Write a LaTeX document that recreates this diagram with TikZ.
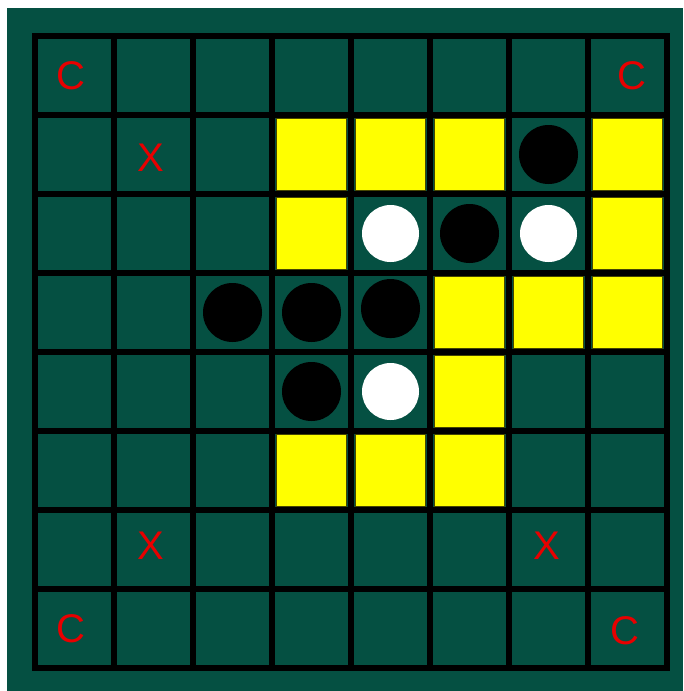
\documentclass[tikz,border=0pt]{standalone}
\usepackage{fontspec}
\setmainfont{Liberation Sans}
\usepackage{xcolor}

\definecolor{boardgreen}{RGB}{5,80,66}
\definecolor{markred}{RGB}{232,0,0}
\definecolor{hintyellow}{RGB}{255,255,0}
\definecolor{hintedge}{RGB}{70,70,0}

\begin{document}
\begin{tikzpicture}[
  x=1pt, y=-1pt,
  gridline/.style={line width=5.5pt, black, line cap=rect},
  hint/.style={fill=hintyellow, draw=hintedge, line width=0.8pt},
  blackdisc/.style={circle, fill=black, minimum size=59pt, inner sep=0pt},
  whitedisc/.style={circle, fill=white, minimum size=57pt, inner sep=0pt},
  cornerlabel/.style={text=markred, inner sep=0pt, font=\fontsize{40}{40}\selectfont},
]
\useasboundingbox (0,0) rectangle (683,691);
\fill[boardgreen] (7,8) rectangle (683,691);

\begin{scope}[shift={(35,36)}, x=79pt, y=-79pt]
% grid
\foreach \k in {0,...,8} {
  \draw[gridline] (\k,0) -- (\k,8);
  \draw[gridline] (0,\k) -- (8,\k);
}

% legal moves
\foreach \c/\r in {3/1, 4/1, 5/1, 7/1, 3/2, 7/2, 5/3, 6/3, 7/3, 5/4, 3/5, 4/5, 5/5}
  \draw[hint] (\c+0.05,\r+0.04) rectangle (\c+0.94,\r+0.95);

% discs
\node[blackdisc] (b61) at (6.5,1.5) {};
\node[blackdisc] (b52) at (5.5,2.5) {};
\node[blackdisc] (b23) at (2.5,3.5) {};
\node[blackdisc] (b33) at (3.5,3.5) {};
\node[blackdisc] (b43) at (4.5,3.45) {};
\node[blackdisc] (b34) at (3.5,4.5) {};
\node[whitedisc] (w42) at (4.5,2.5) {};
\node[whitedisc] (w62) at (6.5,2.5) {};
\node[whitedisc] (w44) at (4.5,4.5) {};

% corner and x squares
\node[cornerlabel, xshift=-4pt] (c00) at (0.5,0.5) {C};
\node[cornerlabel, xshift=4pt] (c70) at (7.5,0.5) {C};
\node[cornerlabel, xshift=-4pt] (c07) at (0.5,7.5) {C};
\node[cornerlabel, xshift=-3pt, yshift=-2pt] (c77) at (7.5,7.5) {C};
\node[cornerlabel, xshift=-3pt, yshift=-3pt] (x11) at (1.5,1.5) {X};
\node[cornerlabel, xshift=-3pt, yshift=4pt] (x16) at (1.5,6.5) {X};
\node[cornerlabel, xshift=-2pt, yshift=4pt] (x66) at (6.5,6.5) {X};
\end{scope}
\end{tikzpicture}
\end{document}
